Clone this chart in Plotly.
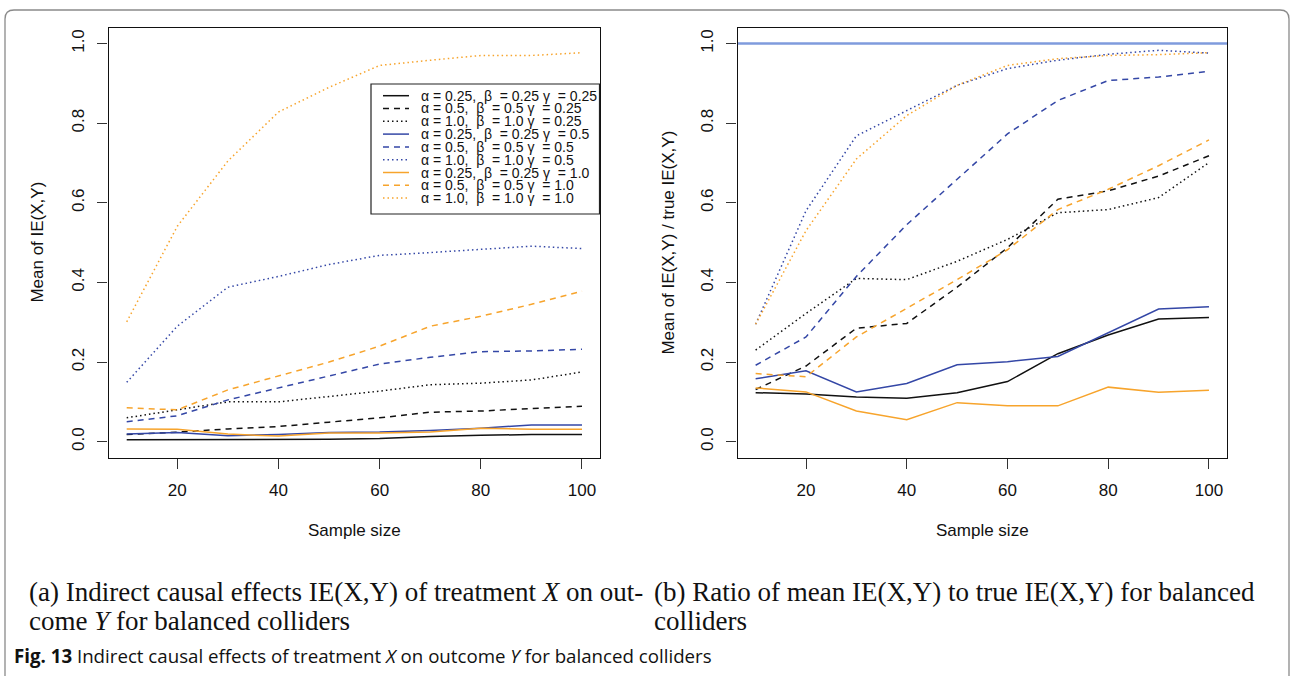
import plotly.graph_objects as go

W, H = 1291, 676

sample_size = [10, 20, 30, 40, 50, 60, 70, 80, 90, 100]

# (a) Mean of IE(X,Y)
ie_a025_g025 = [0.005, 0.005, 0.005, 0.005, 0.006, 0.008, 0.013, 0.016, 0.018, 0.018]
ie_a05_g025 = [0.018, 0.024, 0.032, 0.038, 0.049, 0.060, 0.074, 0.077, 0.083, 0.089]
ie_a1_g025 = [0.060, 0.080, 0.100, 0.100, 0.114, 0.127, 0.143, 0.147, 0.155, 0.175]
ie_a025_g05 = [0.019, 0.023, 0.015, 0.018, 0.023, 0.024, 0.028, 0.034, 0.042, 0.042]
ie_a05_g05 = [0.050, 0.065, 0.105, 0.135, 0.165, 0.195, 0.212, 0.226, 0.228, 0.232]
ie_a1_g05 = [0.149, 0.290, 0.388, 0.415, 0.445, 0.468, 0.475, 0.483, 0.491, 0.485]
ie_a025_g1 = [0.032, 0.031, 0.019, 0.014, 0.022, 0.022, 0.024, 0.034, 0.031, 0.031]
ie_a05_g1 = [0.085, 0.080, 0.130, 0.165, 0.200, 0.240, 0.290, 0.315, 0.345, 0.378]
ie_a1_g1 = [0.301, 0.541, 0.705, 0.828, 0.890, 0.945, 0.958, 0.970, 0.970, 0.977]

# (b) Ratio of mean IE(X,Y) to true IE(X,Y)
r_a025_g025 = [0.123, 0.120, 0.112, 0.109, 0.123, 0.151, 0.221, 0.268, 0.308, 0.312]
r_a05_g025 = [0.131, 0.190, 0.285, 0.297, 0.388, 0.487, 0.609, 0.630, 0.667, 0.718]
r_a1_g025 = [0.230, 0.322, 0.410, 0.407, 0.453, 0.508, 0.575, 0.583, 0.613, 0.701]
r_a025_g05 = [0.158, 0.178, 0.125, 0.146, 0.193, 0.201, 0.214, 0.274, 0.333, 0.339]
r_a05_g05 = [0.192, 0.263, 0.415, 0.545, 0.659, 0.773, 0.857, 0.907, 0.916, 0.930]
r_a1_g05 = [0.295, 0.580, 0.768, 0.832, 0.895, 0.937, 0.958, 0.973, 0.983, 0.976]
r_a025_g1 = [0.135, 0.125, 0.077, 0.055, 0.098, 0.090, 0.090, 0.137, 0.124, 0.129]
r_a05_g1 = [0.171, 0.163, 0.263, 0.335, 0.407, 0.482, 0.583, 0.634, 0.693, 0.758]
r_a1_g1 = [0.295, 0.530, 0.710, 0.819, 0.895, 0.945, 0.962, 0.970, 0.972, 0.977]

true_ratio = [1.0, 1.0]
true_ratio_x = [0, 120]

legend_labels = [
    "α = 0.25,  β  = 0.25 γ  = 0.25",
    "α = 0.5,  β  = 0.5 γ  = 0.25",
    "α = 1.0,  β  = 1.0 γ  = 0.25",
    "α = 0.25,  β  = 0.25 γ  = 0.5",
    "α = 0.5,  β  = 0.5 γ  = 0.5",
    "α = 1.0,  β  = 1.0 γ  = 0.5",
    "α = 0.25,  β  = 0.25 γ  = 1.0",
    "α = 0.5,  β  = 0.5 γ  = 1.0",
    "α = 1.0,  β  = 1.0 γ  = 1.0",
]

x_title = "Sample size"
y_title_a = "Mean of IE(X,Y)"
y_title_b = "Mean of IE(X,Y) / true IE(X,Y)"

BLACK = "#111111"
BLUE = "#3447A6"
ORANGE = "#F7A42C"
SOLID, DASH, DOT = "solid", "6px,5px", "1.5px,3px"

colors = [BLACK, BLACK, BLACK, BLUE, BLUE, BLUE, ORANGE, ORANGE, ORANGE]
dashes = [SOLID, DASH, DOT] * 3

left_series = [ie_a025_g025, ie_a05_g025, ie_a1_g025, ie_a025_g05, ie_a05_g05,
               ie_a1_g05, ie_a025_g1, ie_a05_g1, ie_a1_g1]
right_series = [r_a025_g025, r_a05_g025, r_a1_g025, r_a025_g05, r_a05_g05,
                r_a1_g05, r_a025_g1, r_a05_g1, r_a1_g1]

fig = go.Figure()

for ys, c, d, name in zip(left_series, colors, dashes, legend_labels):
    fig.add_trace(go.Scatter(x=sample_size, y=ys, mode="lines", name=name,
                             line=dict(color=c, dash=d, width=1.5),
                             xaxis="x", yaxis="y", showlegend=False))

fig.add_trace(go.Scatter(x=true_ratio_x, y=true_ratio, mode="lines",
                         line=dict(color="#7F9BDD", width=2.5),
                         xaxis="x2", yaxis="y2", showlegend=False))

for ys, c, d, name in zip(right_series, colors, dashes, legend_labels):
    fig.add_trace(go.Scatter(x=sample_size, y=ys, mode="lines", name=name,
                             line=dict(color=c, dash=d, width=1.5),
                             xaxis="x2", yaxis="y2", showlegend=False))

SANS = "Liberation Sans, Arial, sans-serif"
TICKFONT = dict(family=SANS, size=17, color="#111")

def xaxis_cfg(domain, anchor):
    return dict(domain=domain, anchor=anchor, range=[6.4, 103.6],
                tickvals=[20, 40, 60, 80, 100], ticks="outside", ticklen=10,
                tickcolor="#333", showline=True, linecolor="#111", linewidth=1.2,
                mirror=True, showgrid=False, zeroline=False, tickfont=TICKFONT,
                ticklabelstandoff=7)

def yaxis_cfg(domain, anchor):
    return dict(domain=domain, anchor=anchor, range=[-0.04, 1.04],
                tickvals=[0, 0.2, 0.4, 0.6, 0.8, 1.0],
                ticktext=["0.0", "0.2", "0.4", "0.6", "0.8", "1.0"],
                tickangle=-90, ticks="outside", ticklen=10, tickcolor="#333",
                showline=True, linecolor="#111", linewidth=1.2, mirror=True,
                showgrid=False, zeroline=False, tickfont=TICKFONT,
                ticklabelstandoff=7)

xa = [108.5, 600.2]
xb = [737.5, 1227.1]
ydom = [1 - 457.6 / H, 1 - 27.6 / H]
fig.update_layout(
    width=W, height=H, margin=dict(l=0, r=0, t=0, b=0),
    paper_bgcolor="white", plot_bgcolor="white",
    xaxis=xaxis_cfg([xa[0] / W, xa[1] / W], "y"),
    yaxis=yaxis_cfg(ydom, "x"),
    xaxis2=xaxis_cfg([xb[0] / W, xb[1] / W], "y2"),
    yaxis2=yaxis_cfg(ydom, "x2"),
    showlegend=False,
)

shapes = []
annotations = []

# axis titles
for cx, t in [((xa[0] + xa[1]) / 2, x_title), ((xb[0] + xb[1]) / 2, x_title)]:
    annotations.append(dict(xref="paper", yref="paper", x=cx / W, y=1 - 530 / H,
                            xanchor="center", yanchor="middle", showarrow=False,
                            text=t, font=TICKFONT))
for cx, t in [(38, y_title_a), (669, y_title_b)]:
    annotations.append(dict(xref="paper", yref="paper", x=cx / W,
                            y=1 - ((457.6 + 27.6) / 2) / H,
                            xanchor="center", yanchor="middle", showarrow=False,
                            textangle=-90, text=t, font=TICKFONT))

# manual legend (topright of panel a)
lx0, lx1, ly0, ly1 = 371, 599.5, 84, 214
shapes.append(dict(type="rect", xref="paper", yref="paper",
                   x0=lx0 / W, x1=lx1 / W, y0=1 - ly1 / H, y1=1 - ly0 / H,
                   line=dict(color="#222", width=1.2), fillcolor="white", layer="above"))
for i, (lab, c, d) in enumerate(zip(legend_labels, colors, dashes)):
    yy = 1 - (95.7 + 12.8 * i) / H
    shapes.append(dict(type="line", xref="paper", yref="paper",
                       x0=383 / W, x1=409 / W, y0=yy, y1=yy,
                       line=dict(color=c, dash=d, width=1.5), layer="above"))
    annotations.append(dict(xref="paper", yref="paper", x=419 / W, y=yy,
                            xanchor="left", yanchor="middle", showarrow=False,
                            text=lab.replace(" ", "\u00a0"),
                            font=dict(family=SANS, size=14, color="#111")))

# outer frame with rounded top corners
fl, fr, ft, fb = 5, 1289, 10, 700
r = 9
path = (f"M {fl/W} {1-fb/H} L {fl/W} {1-(ft+r)/H} Q {fl/W} {1-ft/H} {(fl+r)/W} {1-ft/H} "
        f"L {(fr-r)/W} {1-ft/H} Q {fr/W} {1-ft/H} {fr/W} {1-(ft+r)/H} L {fr/W} {1-fb/H}")
shapes.append(dict(type="path", xref="paper", yref="paper", path=path,
                   line=dict(color="#8a8a8a", width=1.3)))

SERIF = dict(family="Liberation Serif, Times New Roman, serif", size=27, color="#111")
captions = [
    (27, 592, "(a) Indirect causal effects IE(X,Y) of treatment <i>X</i> on out-"),
    (27, 621, "come <i>Y</i> for balanced colliders"),
    (652, 592, "(b) Ratio of mean IE(X,Y) to true IE(X,Y) for balanced"),
    (652, 621, "colliders"),
]
for x, y, t in captions:
    annotations.append(dict(xref="paper", yref="paper", x=x / W, y=1 - y / H,
                            xanchor="left", yanchor="middle", showarrow=False,
                            text=t, font=SERIF))

annotations.append(dict(xref="paper", yref="paper", x=12 / W, y=1 - 655 / H,
                        xanchor="left", yanchor="middle", showarrow=False,
                        text="<b>Fig. 13</b> Indirect causal effects of treatment <i>X</i> on outcome <i>Y</i> for balanced colliders",
                        font=dict(family="Open Sans, Noto Sans, sans-serif", size=18.7, color="#111")))

fig.update_layout(shapes=shapes, annotations=annotations)

fig.write_html("out.html", config={"displayModeBar": False},
               post_script="document.body.style.margin='0px';")
